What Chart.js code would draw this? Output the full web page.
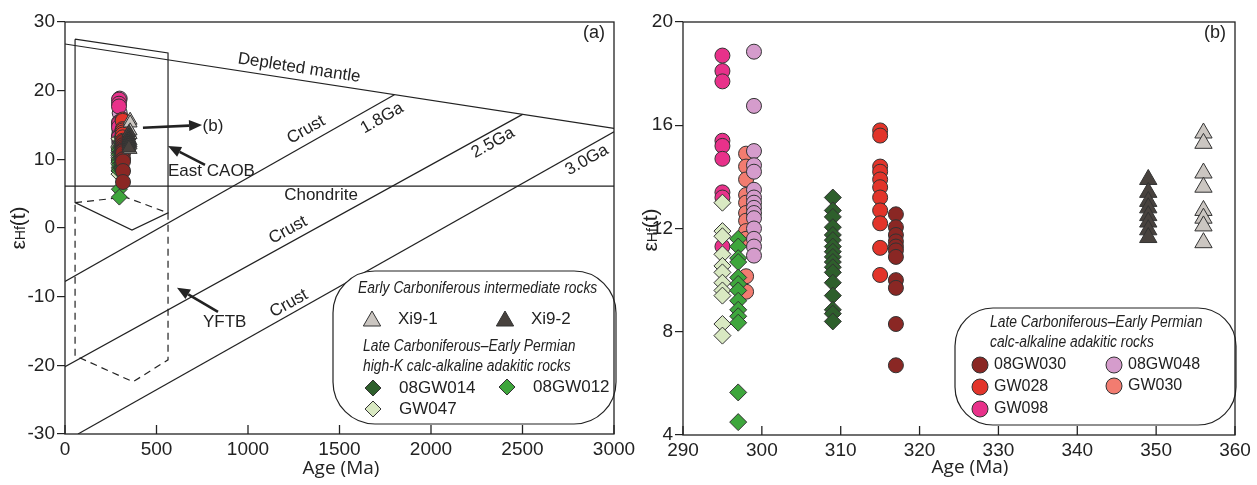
<!DOCTYPE html>
<html>
<head>
<meta charset="utf-8">
<script src="https://cdn.jsdelivr.net/npm/chart.js@4.4.1/dist/chart.umd.min.js"></script>
<style>
  body { margin: 0; background: #fff; }
  #wrap { position: relative; width: 1257px; height: 485px; overflow: hidden; }
  canvas { position: absolute; top: 0; }
  #chartA { left: 0; }
  #chartB { left: 630px; }
</style>
</head>
<body>
<div id="wrap">
  <canvas id="chartA" width="645" height="485"></canvas>
  <canvas id="chartB" width="627" height="485"></canvas>
</div>
<script>
// zircon εHf(t) per sample, ages in Ma
const sampleNames = ['GW030', '08GW048', 'GW098', 'GW047', '08GW012', '08GW014', 'GW028', '08GW030', 'Xi9-1', 'Xi9-2'];
const sampleAges = [298, 299, 295, 295, 297, 309, 315, 317, 356, 349];

const hfGW030 = [14.9, 14.4, 13.9, 13.3, 13.0, 12.6, 12.3, 11.9, 11.6, 10.15, 9.55];
const hf08GW048 = [18.85, 16.75, 15.0, 14.45, 14.2, 13.5, 13.2, 13.0, 12.8, 12.6, 12.4, 12.0, 11.6, 11.3, 10.95];
const hfGW098 = [18.7, 18.1, 17.7, 15.4, 15.2, 14.7, 13.4, 13.2, 11.3];
const hfGW047 = [13.0, 11.9, 11.7, 11.0, 10.55, 10.3, 9.9, 9.6, 9.4, 8.3, 7.85];
const hf08GW012 = [11.6, 11.3, 10.85, 10.7, 10.1, 9.85, 9.6, 9.2, 8.85, 8.6, 8.35, 5.65, 4.5];
const hf08GW014 = [13.2, 12.7, 12.45, 12.05, 11.75, 11.55, 11.3, 11.1, 10.9, 10.7, 10.5, 10.3, 9.9, 9.4, 8.85, 8.7, 8.4];
const hfGW028 = [15.8, 15.6, 14.4, 14.2, 13.9, 13.6, 13.2, 12.7, 12.2, 11.25, 10.2];
const hf08GW030 = [12.55, 12.05, 11.75, 11.5, 11.3, 11.15, 10.9, 10.0, 9.7, 8.3, 6.7];
const hfXi91 = [15.7, 15.3, 14.15, 13.6, 12.7, 12.4, 12.1, 11.45];
const hfXi92 = [13.9, 13.4, 13.05, 12.8, 12.5, 12.25, 11.95, 11.65];
const sampleHf = [hfGW030, hf08GW048, hfGW098, hfGW047, hf08GW012, hf08GW014, hfGW028, hf08GW030, hfXi91, hfXi92];

const sampleFill = ['#f27c70', '#d59ccc', '#e8318a', '#d9e9c2', '#3ea63c', '#2e5f2c', '#e2342a', '#8a2724', '#cbc6c1', '#48423e'];
const sampleShape = ['circle', 'circle', 'circle', 'rectRot', 'rectRot', 'rectRot', 'circle', 'circle', 'triangle', 'triangle'];

// evolution lines for panel (a): [age, εHf]
const depletedMantle = [[0, 26.8], [3000, 14.5]];
const chondrite = [[0, 6.1], [3000, 6.1]];
const crust18 = [[0, -7.8], [1800, 19.4]];
const crust25 = [[0, -20.2], [2500, 16.55]];
const crust30 = [[71, -30], [3000, 14.0]];
const eastCaob = [[55, 27.5], [563, 25.5], [563, 2.2], [366, -0.3], [55, 3.7], [55, 27.5]];
const yftb = [[55, 3.7], [330, 4.5], [563, 2.2], [563, -19.2], [372, -22.4], [55, -18.6], [55, 3.7]];

// tick values
const ageTicksA = [0, 500, 1000, 1500, 2000, 2500, 3000];
const hfTicksA = [-30, -20, -10, 0, 10, 20, 30];
const ageTicksB = [290, 300, 310, 320, 330, 340, 350, 360];
const hfTicksB = [4, 8, 12, 16, 20];

// labels sitting on the lines, in data units
const lineLabels = [
  { text: 'Depleted mantle', x: 1279, y: 23.3, along: depletedMantle },
  { text: 'Crust', x: 1317, y: 14.3, along: crust18 },
  { text: '1.8Ga', x: 1732, y: 16.0, along: crust18 },
  { text: 'Crust', x: 1219, y: -0.3, along: crust25 },
  { text: '2.5Ga', x: 2339, y: 12.4, along: crust25 },
  { text: 'Crust', x: 1224, y: -11.0, along: crust30 },
  { text: '3.0Ga', x: 2852, y: 9.9, along: crust30 },
  { text: 'Chondrite', x: 1399, y: 4.75, along: chondrite }
];
const plainLabels = [
  { text: 'East CAOB', x: 563, y: 8.2 },
  { text: 'YFTB', x: 754, y: -13.7 },
  { text: '(b)', x: 752, y: 14.8 }
];
const arrows = [
  { from: [426, 14.6], to: [749, 15.0] },
  { from: [765, 9.2], to: [563, 11.95] },
  { from: [836, -12.2], to: [612, -8.7] }
];

const INK = '#222';
const tickFont = { family: '"Liberation Sans", Arial, sans-serif', size: 19 };

function drawMarker(ctx, shape, x, y, r, fill) {
  ctx.beginPath();
  if (shape === 'circle') {
    ctx.arc(x, y, r, 0, Math.PI * 2);
  } else if (shape === 'rectRot') {
    ctx.moveTo(x - r, y); ctx.lineTo(x, y - r); ctx.lineTo(x + r, y); ctx.lineTo(x, y + r);
    ctx.closePath();
  } else {
    ctx.moveTo(x, y - r); ctx.lineTo(x + r * 0.866, y + r / 2); ctx.lineTo(x - r * 0.866, y + r / 2);
    ctx.closePath();
  }
  ctx.fillStyle = fill; ctx.fill();
  ctx.strokeStyle = '#333'; ctx.lineWidth = 1; ctx.stroke();
}

function drawArrow(ctx, x0, y0, x1, y1) {
  const ang = Math.atan2(y1 - y0, x1 - x0);
  const len = 13, half = 5.5;
  const bx = x1 - Math.cos(ang) * len, by = y1 - Math.sin(ang) * len;
  ctx.lineWidth = 2.6;
  ctx.beginPath(); ctx.moveTo(x0, y0); ctx.lineTo(bx, by); ctx.stroke();
  ctx.beginPath();
  ctx.moveTo(x1, y1);
  ctx.lineTo(bx + Math.sin(ang) * half, by - Math.cos(ang) * half);
  ctx.lineTo(bx - Math.sin(ang) * half, by + Math.cos(ang) * half);
  ctx.closePath(); ctx.fill();
}

function italicText(ctx, text, x, y) {
  ctx.save();
  ctx.font = 'italic 16px "Liberation Sans", Arial, sans-serif';
  ctx.textAlign = 'left'; ctx.textBaseline = 'middle';
  ctx.translate(x, y); ctx.scale(0.865, 1);
  ctx.fillText(text, 0, 0);
  ctx.restore();
}

function drawLegend(ctx, lg) {
  const [bx, by, bw, bh, br] = lg.box;
  ctx.save();
  ctx.beginPath(); ctx.roundRect(bx, by, bw, bh, br);
  ctx.fillStyle = '#fff'; ctx.fill();
  ctx.strokeStyle = INK; ctx.lineWidth = 1.2; ctx.stroke();
  ctx.fillStyle = INK;
  lg.headers.forEach(([t, x, y]) => italicText(ctx, t, x, y));
  lg.items.forEach(([name, x, y]) => {
    const i = sampleNames.indexOf(name);
    const shape = sampleShape[i];
    drawMarker(ctx, shape, x, y, lg.size[shape], sampleFill[i]);
    ctx.fillStyle = INK;
    ctx.font = lg.font; ctx.textAlign = 'left'; ctx.textBaseline = 'middle';
    ctx.fillText(name, x + lg.gap, y - (shape === 'triangle' ? 2 : 0));
  });
  ctx.restore();
}

function yTitle(ctx, cx, cy) {
  const parts = [['ε', 21], ['Hf', 14], ['(t)', 21]];
  ctx.save();
  ctx.translate(cx, cy); ctx.rotate(-Math.PI / 2);
  ctx.fillStyle = INK; ctx.textBaseline = 'alphabetic'; ctx.textAlign = 'left';
  let total = 0;
  parts.forEach(([t, s]) => { ctx.font = s + 'px "Liberation Sans", Arial'; total += ctx.measureText(t).width; });
  let x = -total / 2;
  parts.forEach(([t, s]) => {
    ctx.font = s + 'px "Liberation Sans", Arial';
    ctx.fillText(t, x, 7);
    x += ctx.measureText(t).width;
  });
  ctx.restore();
}

function xTitle(ctx, cx, cy) {
  ctx.save();
  ctx.fillStyle = INK; ctx.font = '19px "Open Sans", sans-serif';
  ctx.textAlign = 'center'; ctx.textBaseline = 'middle';
  ctx.fillText('Age (Ma)', cx, cy);
  ctx.restore();
}

// frame round the plot, inward ticks on the age axis, axis titles and panel tag
const frame = {
  id: 'frame',
  afterDraw(chart, args, o) {
    const { ctx, chartArea: a, scales: { x } } = chart;
    ctx.save();
    ctx.strokeStyle = INK; ctx.lineWidth = 1.3;
    ctx.strokeRect(a.left, a.top, a.right - a.left, a.bottom - a.top);
    x.ticks.forEach(t => {
      const px = x.getPixelForValue(t.value);
      ctx.beginPath(); ctx.moveTo(px, a.bottom); ctx.lineTo(px, a.bottom - 9); ctx.stroke();
    });
    ctx.fillStyle = INK; ctx.font = '18px "Liberation Sans", Arial';
    ctx.textAlign = 'center'; ctx.textBaseline = 'middle';
    ctx.fillText(o.tag, a.right - 20, a.top + 11);
    ctx.restore();
    xTitle(ctx, o.xTitle[0], o.xTitle[1]);
    yTitle(ctx, o.yTitle[0], o.yTitle[1]);
  }
};

const panelA = {
  id: 'panelA',
  afterDatasetsDraw(chart) {
    const { ctx, scales: { x, y } } = chart;
    const px = v => x.getPixelForValue(v), py = v => y.getPixelForValue(v);
    ctx.save();
    ctx.fillStyle = INK; ctx.strokeStyle = INK;
    ctx.font = '17px "Liberation Sans", Arial';
    ctx.textAlign = 'center'; ctx.textBaseline = 'middle';
    lineLabels.forEach(l => {
      const [p0, p1] = l.along;
      const ang = Math.atan2(py(p1[1]) - py(p0[1]), px(p1[0]) - px(p0[0]));
      ctx.save();
      ctx.translate(px(l.x), py(l.y)); ctx.rotate(ang);
      ctx.fillText(l.text, 0, 0);
      ctx.restore();
    });
    ctx.textAlign = 'left';
    plainLabels.forEach(l => ctx.fillText(l.text, px(l.x), py(l.y)));
    arrows.forEach(a => drawArrow(ctx, px(a.from[0]), py(a.from[1]), px(a.to[0]), py(a.to[1])));
    ctx.restore();
    drawLegend(ctx, {
      box: [333, 271, 283, 153, 42],
      headers: [['Early Carboniferous intermediate rocks', 358, 289],
                ['Late Carboniferous–Early Permian', 363, 347],
                ['high-K calc-alkaline adakitic rocks', 363, 367]],
      items: [['Xi9-1', 372, 321], ['Xi9-2', 505, 321], ['08GW014', 373, 388], ['08GW012', 507, 387], ['GW047', 373, 409]],
      size: { triangle: 10, rectRot: 8, circle: 8 },
      font: '17px "Liberation Sans", Arial',
      gap: 26
    });
  }
};

const panelB = {
  id: 'panelB',
  afterDatasetsDraw(chart) {
    drawLegend(chart.ctx, {
      box: [325, 308, 281, 117, 38],
      headers: [['Late Carboniferous–Early Permian', 360, 323],
                ['calc-alkaline adakitic rocks', 360, 343]],
      items: [['08GW030', 350, 365], ['GW028', 350, 387], ['GW098', 350, 409], ['08GW048', 484, 365], ['GW030', 484, 386]],
      size: { triangle: 10, rectRot: 8, circle: 8 },
      font: '16px "Liberation Sans", Arial',
      gap: 14
    });
  }
};

function sampleDatasets(sizes) {
  return sampleNames.map((name, i) => ({
    label: name,
    data: sampleHf[i].map(v => ({ x: sampleAges[i], y: v })),
    pointStyle: sampleShape[i],
    pointRadius: sizes[sampleShape[i]],
    backgroundColor: sampleFill[i],
    borderColor: '#333',
    borderWidth: 1,
    clip: false,
    order: sampleNames.length - i
  }));
}

function lineDataset(pts, dashed) {
  return {
    data: pts.map(([x, y]) => ({ x, y })),
    showLine: true,
    pointRadius: 0,
    borderColor: INK,
    borderWidth: 1.2,
    borderDash: dashed ? [7, 5] : [],
    order: 100
  };
}

function axes(xMin, xMax, xTicks, yMin, yMax, yTicks, yWidth, xHeight) {
  return {
    x: {
      type: 'linear', min: xMin, max: xMax,
      afterBuildTicks: s => { s.ticks = xTicks.map(value => ({ value })); },
      afterFit: s => { s.height = xHeight; },
      grid: { display: false, drawTicks: false }, border: { display: false },
      ticks: { font: tickFont, color: INK, padding: 4, maxRotation: 0, autoSkip: false, callback: v => String(v) }
    },
    y: {
      type: 'linear', min: yMin, max: yMax,
      afterBuildTicks: s => { s.ticks = yTicks.map(value => ({ value })); },
      afterFit: s => { s.width = yWidth; },
      grid: { drawOnChartArea: false, tickLength: 8, color: INK, lineWidth: 1.2 },
      border: { display: false },
      ticks: { font: tickFont, color: INK, padding: 2, autoSkip: false, callback: v => String(v) }
    }
  };
}

new Chart(document.getElementById('chartA'), {
  type: 'scatter',
  data: {
    datasets: [
      lineDataset(depletedMantle), lineDataset(chondrite), lineDataset(crust18),
      lineDataset(crust25), lineDataset(crust30), lineDataset(eastCaob),
      lineDataset(yftb, true),
      ...sampleDatasets({ circle: 7.5, rectRot: 8, triangle: 8 })
    ]
  },
  options: {
    responsive: false, animation: false,
    layout: { padding: { top: 22, right: 31, left: 0, bottom: 0 } },
    plugins: {
      legend: { display: false }, tooltip: { enabled: false },
      frame: { tag: '(a)', xTitle: [341, 469], yTitle: [18, 228] }
    },
    scales: axes(0, 3000, ageTicksA, -30, 30, hfTicksA, 65, 51)
  },
  plugins: [panelA, frame]
});

new Chart(document.getElementById('chartB'), {
  type: 'scatter',
  data: { datasets: sampleDatasets({ circle: 7.5, rectRot: 8.5, triangle: 10 }) },
  options: {
    responsive: false, animation: false,
    layout: { padding: { top: 22, right: 22, left: 0, bottom: 0 } },
    plugins: {
      legend: { display: false }, tooltip: { enabled: false },
      frame: { tag: '(b)', xTitle: [340, 468], yTitle: [20, 230] }
    },
    scales: axes(290, 360, ageTicksB, 4, 20, hfTicksB, 53, 50)
  },
  plugins: [panelB, frame]
});
</script>
</body>
</html>
